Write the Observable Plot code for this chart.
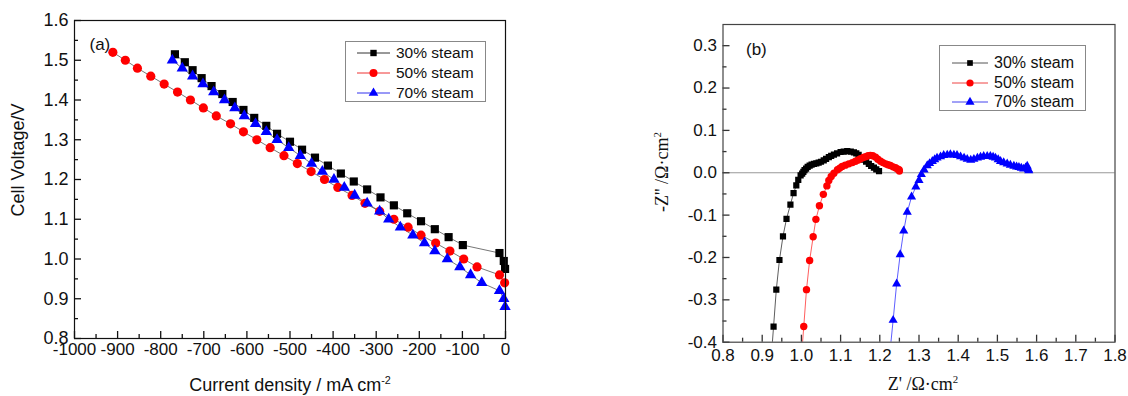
<!DOCTYPE html>
<html><head><meta charset="utf-8">
<script src="https://cdn.jsdelivr.net/npm/d3@7"></script>
<script src="https://cdn.jsdelivr.net/npm/@observablehq/plot@0.6"></script>
<style>
body{margin:0;background:#fff;}
#wrap{position:relative;width:1128px;height:396px;overflow:hidden;font-family:"Liberation Sans",Arial,sans-serif;color:#111;}
.abs{position:absolute;white-space:nowrap;}
.serif{font-family:"Liberation Serif","Times New Roman",serif;}
sup{font-size:0.6em;vertical-align:0.6em;line-height:0;}
.legend{position:absolute;border:1px solid #888;background:#fff;box-sizing:border-box;}
.legend .row{position:absolute;left:0;display:flex;align-items:center;}
</style></head><body><div id="wrap"></div>
<script>
// ---------- Panel (a): I-V curves ----------
const seriesNames = ["30% steam", "50% steam", "70% steam"];
const seriesColors = ["#000000", "#ff0000", "#0000ff"];
const seriesSymbols = ["square", "circle", "triangle"];

const iv30_j = [-767,-744,-726,-705,-682,-657,-633,-608,-583,-555,-530,-500,-472,-442,-412,-382,-352,-321,-290,-259,-228,-196,-164,-132,-99,-14,-4,-1];
const iv30_v = [1.515,1.495,1.475,1.455,1.435,1.415,1.395,1.375,1.355,1.335,1.315,1.295,1.275,1.255,1.235,1.215,1.195,1.175,1.155,1.135,1.115,1.095,1.075,1.055,1.035,1.015,0.995,0.975];
const iv50_j = [-911,-882,-854,-823,-792,-761,-731,-701,-671,-638,-608,-577,-546,-514,-483,-451,-420,-389,-356,-326,-292,-259,-226,-196,-162,-129,-97,-66,-14,-2];
const iv50_v = [1.52,1.50,1.48,1.46,1.44,1.42,1.40,1.38,1.36,1.34,1.32,1.30,1.28,1.26,1.24,1.22,1.20,1.18,1.16,1.14,1.12,1.10,1.08,1.06,1.04,1.02,1.00,0.98,0.96,0.94];
const iv70_j = [-773,-750,-726,-702,-677,-652,-628,-606,-580,-555,-530,-503,-476,-450,-425,-398,-374,-350,-321,-292,-271,-244,-215,-188,-164,-135,-106,-81,-55,-14,-4,-1];
const iv70_v = [1.50,1.48,1.46,1.44,1.42,1.40,1.38,1.36,1.34,1.32,1.30,1.28,1.26,1.24,1.22,1.20,1.18,1.16,1.14,1.12,1.10,1.08,1.06,1.04,1.02,1.00,0.98,0.96,0.94,0.92,0.90,0.88];

const xTicksA = [-1000,-900,-800,-700,-600,-500,-400,-300,-200,-100,0];
const xMinorA = [-950,-850,-750,-650,-550,-450,-350,-250,-150,-50];
const yTicksA = [0.8,0.9,1.0,1.1,1.2,1.3,1.4,1.5,1.6];
const yMinorA = [0.85,0.95,1.05,1.15,1.25,1.35,1.45,1.55];

// ---------- Panel (b): impedance spectra ----------
const z30_re = [0.922,0.929,0.936,0.944,0.953,0.962,0.972,0.980,0.987,0.992,0.998,1.002,1.005,1.008,1.012,1.016,1.021,1.026,1.032,1.038,1.044,1.050,1.057,1.063,1.070,1.076,1.083,1.091,1.100,1.108,1.117,1.126,1.134,1.140,1.146,1.152,1.159,1.165,1.172,1.178,1.185,1.191,1.198];
const z30_im = [-0.45,-0.363,-0.276,-0.206,-0.150,-0.109,-0.075,-0.048,-0.030,-0.017,-0.006,-0.002,0.002,0.006,0.010,0.014,0.017,0.019,0.021,0.022,0.024,0.026,0.029,0.033,0.037,0.040,0.043,0.046,0.049,0.050,0.051,0.050,0.048,0.046,0.042,0.037,0.031,0.026,0.021,0.016,0.012,0.008,0.004];
const z50_re = [0.999,1.006,1.013,1.021,1.030,1.037,1.046,1.056,1.065,1.070,1.076,1.083,1.092,1.098,1.104,1.112,1.121,1.130,1.138,1.145,1.151,1.158,1.164,1.170,1.176,1.182,1.189,1.195,1.202,1.208,1.215,1.221,1.227,1.234,1.240,1.245,1.249,1.250];
const z50_im = [-0.45,-0.363,-0.276,-0.207,-0.151,-0.110,-0.078,-0.051,-0.031,-0.018,-0.009,-0.001,0.007,0.011,0.015,0.018,0.021,0.024,0.027,0.030,0.033,0.036,0.038,0.040,0.041,0.040,0.037,0.032,0.027,0.024,0.021,0.019,0.017,0.014,0.012,0.009,0.007,0.004];
const z70_re = [1.223,1.234,1.243,1.252,1.261,1.270,1.281,1.292,1.300,1.306,1.313,1.321,1.327,1.334,1.340,1.346,1.355,1.363,1.372,1.380,1.389,1.397,1.406,1.415,1.423,1.432,1.440,1.449,1.457,1.465,1.474,1.482,1.489,1.495,1.502,1.508,1.516,1.525,1.533,1.542,1.549,1.555,1.561,1.567,1.572,1.576,1.579,1.580];
const z70_im = [-0.45,-0.348,-0.262,-0.193,-0.137,-0.093,-0.057,-0.033,-0.018,-0.004,0.007,0.017,0.022,0.027,0.031,0.035,0.038,0.041,0.042,0.043,0.042,0.041,0.038,0.035,0.032,0.030,0.032,0.035,0.037,0.039,0.039,0.039,0.037,0.035,0.031,0.027,0.024,0.021,0.018,0.016,0.014,0.013,0.011,0.009,0.012,0.016,0.008,0.005];

const xTicksB = [0.8,0.9,1.0,1.1,1.2,1.3,1.4,1.5,1.6,1.7,1.8];
const xMinorB = [0.85,0.95,1.05,1.15,1.25,1.35,1.45,1.55,1.65,1.75];
const yTicksB = [-0.4,-0.3,-0.2,-0.1,0.0,0.1,0.2,0.3];
const yMinorB = [-0.35,-0.25,-0.15,-0.05,0.05,0.15,0.25];

// ---------- build ----------
const zip = (xs, ys) => xs.map((x, i) => ({x, y: ys[i]}));
const ivData = [zip(iv30_j, iv30_v), zip(iv50_j, iv50_v), zip(iv70_j, iv70_v)];
const zData = [zip(z30_re, z30_im), zip(z50_re, z50_im), zip(z70_re, z70_im)];

// inward-pointing ticks (Origin style); lengths given in pixels, converted via frame size
function tickMarks(xMaj, xMin, yMaj, yMin, xDom, yDom, fw, fh, stroke) {
  const kx = (xDom[1] - xDom[0]) / fw, ky = (yDom[1] - yDom[0]) / fh;
  const big = 7, small = 4;
  const o = {stroke, strokeWidth: 1.3, strokeOpacity: 1};
  return [
    Plot.ruleX(xMaj, {...o, x: d => d, y1: yDom[0], y2: yDom[0] + big * ky}),
    Plot.ruleX(xMin, {...o, x: d => d, y1: yDom[0], y2: yDom[0] + small * ky}),
    Plot.ruleY(yMaj, {...o, y: d => d, x1: xDom[0], x2: xDom[0] + big * kx}),
    Plot.ruleY(yMin, {...o, y: d => d, x1: xDom[0], x2: xDom[0] + small * kx})
  ];
}
const symR = {square: 4.6, circle: 4.6, triangle: 4.2};
const symRb = {square: 3.5, circle: 3.7, triangle: 3.4};

const wrap = document.getElementById("wrap");

const A = {w: 560, h: 396, ml: 74, mr: 55, mt: 20, mb: 58, xd: [-1000, 0], yd: [0.8, 1.6]};
const plotA = Plot.plot({
  width: A.w, height: A.h,
  marginLeft: A.ml, marginRight: A.mr, marginTop: A.mt, marginBottom: A.mb,
  style: {fontFamily: "Liberation Sans, Arial, sans-serif", background: "transparent", color: "#111"},
  x: {domain: A.xd},
  y: {domain: A.yd},
  marks: [
    Plot.axisX(xTicksA, {label: null, tickSize: 0, tickPadding: 4, fontSize: 17, tickFormat: d => String(d)}),
    Plot.axisY(yTicksA, {label: null, tickSize: 0, tickPadding: 6, fontSize: 18, tickFormat: d => d.toFixed(1)}),
    ...ivData.map(d => Plot.line(d, {x: "x", y: "y", stroke: "#666", strokeWidth: 0.9})),
    ...ivData.map((d, i) => Plot.dot(d, {x: "x", y: "y", symbol: seriesSymbols[i], r: symR[seriesSymbols[i]], fill: seriesColors[i], stroke: "none"})),
    ...tickMarks(xTicksA, xMinorA, yTicksA, yMinorA, A.xd, A.yd, A.w - A.ml - A.mr, A.h - A.mt - A.mb, "#111"),
    Plot.frame({stroke: "#111", strokeWidth: 1.2}),
    Plot.text(["(a)"], {frameAnchor: "top-left", dx: 15, dy: 17, fontSize: 17, fill: "#111"})
  ]
});
plotA.style.position = "absolute"; plotA.style.left = "0px"; plotA.style.top = "0px";
wrap.appendChild(plotA);

const B = {w: 568, h: 396, ml: 162.5, mr: 13.5, mt: 24, mb: 54.3, xd: [0.8, 1.8], yd: [-0.4, 0.35]};
const plotB = Plot.plot({
  width: B.w, height: B.h,
  marginLeft: B.ml, marginRight: B.mr, marginTop: B.mt, marginBottom: B.mb,
  style: {fontFamily: "Liberation Sans, Arial, sans-serif", background: "transparent", color: "#111"},
  x: {domain: B.xd},
  y: {domain: B.yd},
  marks: [
    Plot.axisX(xTicksB, {label: null, tickSize: 0, tickPadding: 7, fontSize: 17, tickFormat: d => d.toFixed(1)}),
    Plot.axisY(yTicksB, {label: null, tickSize: 0, tickPadding: 6, fontSize: 17, tickFormat: d => d.toFixed(1)}),
    Plot.ruleY([0], {stroke: "#999", strokeWidth: 1.2}),
    ...zData.map((d, i) => Plot.line(d, {x: "x", y: "y", stroke: seriesColors[i], strokeWidth: 0.8, strokeOpacity: 0.8, clip: true})),
    ...zData.map((d, i) => Plot.dot(d, {x: "x", y: "y", symbol: seriesSymbols[i], r: symRb[seriesSymbols[i]], fill: seriesColors[i], stroke: "none", clip: true})),
    ...tickMarks(xTicksB, xMinorB, yTicksB, yMinorB, B.xd, B.yd, B.w - B.ml - B.mr, B.h - B.mt - B.mb, "#333"),
    Plot.frame({stroke: "#444", strokeWidth: 1.2}),
    Plot.text(["(b)"], {frameAnchor: "top-left", dx: 23, dy: 18, fontSize: 17, fill: "#111"})
  ]
});
plotB.style.position = "absolute"; plotB.style.left = "560px"; plotB.style.top = "0px";
wrap.appendChild(plotB);

// ---------- titles ----------
function addDiv(html, css, cls) {
  const d = document.createElement("div");
  d.className = "abs " + (cls || "");
  d.innerHTML = html;
  Object.assign(d.style, css);
  wrap.appendChild(d);
  return d;
}
addDiv("Current density / mA cm<sup>-2</sup>", {left: "290px", top: "385px", fontSize: "18px", transform: "translate(-50%,-50%)"});
addDiv("Cell Voltage/V", {left: "18px", top: "160px", fontSize: "18px", transform: "translate(-50%,-50%) rotate(-90deg)"});
addDiv("-Z'' /Ω·cm<sup>2</sup>", {left: "662px", top: "172px", fontSize: "18px", transform: "translate(-50%,-50%) rotate(-90deg)"}, "serif");
addDiv("Z' /Ω·cm<sup>2</sup>", {left: "923px", top: "384px", fontSize: "18px", transform: "translate(-50%,-50%)"}, "serif");

// ---------- legends ----------
function symbolSvg(sym, color, r, lineColor, lineW) {
  const w = lineW, h = 14;
  const path = d3.symbol(sym === "square" ? d3.symbolSquare : sym === "circle" ? d3.symbolCircle : d3.symbolTriangle, Math.PI * r * r)();
  return `<svg width="${w}" height="${h}" style="display:block"><line x1="0" x2="${w}" y1="${h/2}" y2="${h/2}" stroke="${lineColor}" stroke-width="1"/><path d="${path}" transform="translate(${w/2},${h/2})" fill="${color}"/></svg>`;
}
function legend(box, rows, opts) {
  const lg = document.createElement("div");
  lg.className = "legend";
  Object.assign(lg.style, {left: box.x + "px", top: box.y + "px", width: box.w + "px", height: box.h + "px"});
  seriesNames.forEach((name, i) => {
    const row = document.createElement("div");
    row.className = "row";
    row.style.top = (rows[i] - box.y - 9) + "px";
    row.style.left = opts.lineLeft + "px";
    row.style.height = "18px";
    row.innerHTML = symbolSvg(seriesSymbols[i], seriesColors[i], opts.r[seriesSymbols[i]], opts.lineColors[i], opts.lineW) +
      `<span style="margin-left:${opts.gap}px;font-size:${opts.fs}px;line-height:18px">${name}</span>`;
    lg.appendChild(row);
  });
  wrap.appendChild(lg);
}
legend({x: 345, y: 41, w: 141, h: 61}, [52, 72, 92],
  {lineLeft: 11, lineW: 33, gap: 6, fs: 15.5, r: {square: 3.6, circle: 4, triangle: 3.6}, lineColors: ["#333", "#e33", "#33e"]});
legend({x: 939, y: 45, w: 147, h: 66}, [62, 82, 101],
  {lineLeft: 12, lineW: 36, gap: 6, fs: 16, r: {square: 3.2, circle: 3.6, triangle: 3.4}, lineColors: ["#555", "#e44", "#44e"]});
</script>
</body></html>
